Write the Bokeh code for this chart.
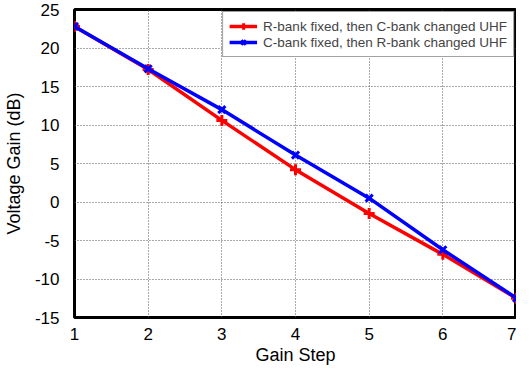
from bokeh.plotting import figure
from bokeh.models import Range1d, FixedTicker, Legend, LegendItem, PrintfTickFormatter
from bokeh.embed import file_html
from bokeh.resources import INLINE

steps = [1, 2, 3, 4, 5, 6, 7]
r_fixed = [22.8, 17.2, 10.6, 4.2, -1.5, -6.8, -12.5]
c_fixed = [22.8, 17.3, 12.0, 6.1, 0.5, -6.2, -12.5]
x_ticks = [1, 2, 3, 4, 5, 6, 7]
y_ticks = [-15, -10, -5, 0, 5, 10, 15, 20, 25]
labels = ["R-bank fixed, then C-bank changed UHF", "C-bank fixed, then R-bank changed UHF"]

FONT = "Liberation Sans"

p = figure(width=516, height=367, output_backend="svg", toolbar_location=None,
           x_range=Range1d(1, 7), y_range=Range1d(-15, 25))
p.min_border_left = 0
p.min_border_right = 0
p.min_border_top = 9
p.min_border_bottom = 0

p.outline_line_color = "black"
p.outline_line_width = 3
p.background_fill_color = "white"

for ax in (p.xaxis, p.yaxis):
    ax.axis_line_color = None
    ax.major_tick_line_color = None
    ax.minor_tick_line_color = None
    ax.major_tick_out = 0
    ax.major_tick_in = 0
    ax.minor_tick_out = 0
    ax.minor_tick_in = 0
    ax.major_label_text_font = FONT
    ax.major_label_text_font_size = "17px"
    ax.major_label_text_color = "black"
    ax.axis_label_text_font = FONT
    ax.axis_label_text_font_size = "18px"
    ax.axis_label_text_font_style = "normal"
    ax.axis_label_text_color = "black"
    ax.formatter = PrintfTickFormatter(format="%d")

p.xaxis.ticker = FixedTicker(ticks=x_ticks)
p.yaxis.ticker = FixedTicker(ticks=y_ticks)
p.xaxis.axis_label = "Gain Step"
p.yaxis.axis_label = "Voltage Gain (dB)"
p.xaxis.major_label_standoff = 10
p.yaxis.major_label_standoff = 15
p.xaxis.axis_label_standoff = 2
p.yaxis.axis_label_standoff = 8

for g in (p.xgrid, p.ygrid):
    g.grid_line_color = "#555555"
    g.grid_line_dash = "1 2"
    g.grid_line_width = 1

r1 = p.line(steps, r_fixed, line_color="#ff0000", line_width=3.5)
m1 = p.scatter(steps, r_fixed, marker="cross", size=11, line_color="#ff0000", line_width=3)
r2 = p.line(steps, c_fixed, line_color="#0000ff", line_width=3.5)
m2 = p.scatter(steps, c_fixed, marker="x", size=10, line_color="#0000ff", line_width=3)

legend = Legend(items=[LegendItem(label=labels[0], renderers=[r1, m1]),
                       LegendItem(label=labels[1], renderers=[r2, m2])],
                location="top_right")
legend.margin = 2
legend.padding = 6
legend.spacing = 0
legend.border_line_color = "#444444"
legend.border_line_width = 1
legend.label_text_font = FONT
legend.label_text_font_size = "13.5px"
legend.label_standoff = 6
legend.glyph_width = 28
legend.glyph_height = 16
legend.label_height = 16
legend.background_fill_alpha = 1
p.add_layout(legend)

open("out.html", "w").write(file_html(p, INLINE))
